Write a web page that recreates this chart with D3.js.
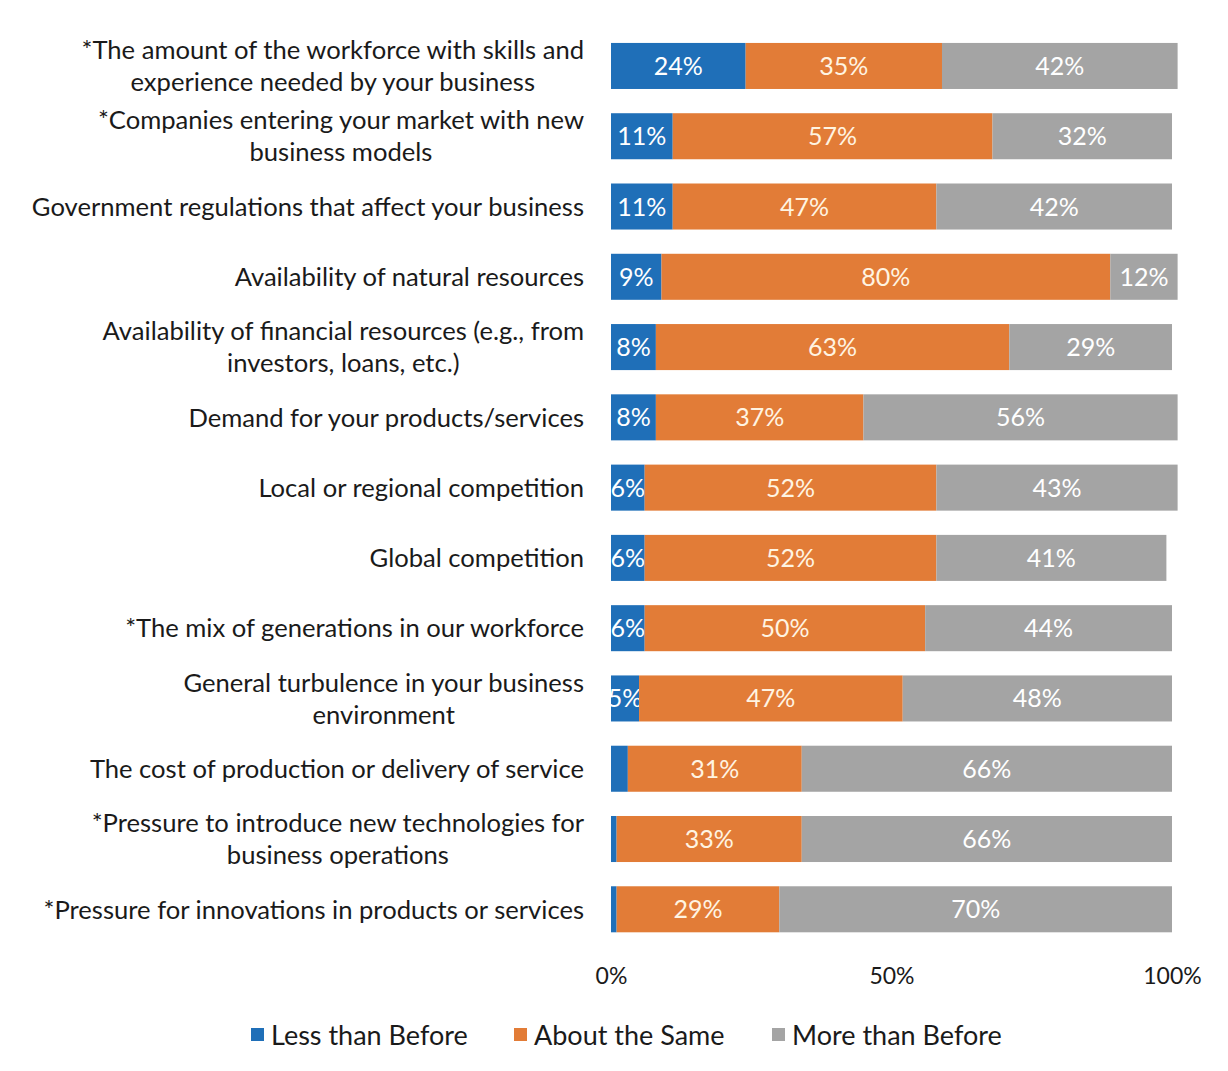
<!DOCTYPE html>
<html>
<head>
<meta charset="utf-8">
<script src="https://cdn.jsdelivr.net/npm/d3@7/dist/d3.min.js"></script>
<style>
  html, body { margin: 0; padding: 0; background: #fff; }
  svg { display: block; }
  text { font-family: "Lato", "Open Sans", sans-serif; }
</style>
</head>
<body>
<svg id="chart" width="1228" height="1071"></svg>
<script>
// Factors, each split into three response shares (percent)
const categories = [
  ["*The amount of the workforce with skills and", "experience needed by your business"],
  ["*Companies entering your market with new", "business models"],
  ["Government regulations that affect your business"],
  ["Availability of natural resources"],
  ["Availability of financial resources (e.g., from", "investors, loans, etc.)"],
  ["Demand for your products/services"],
  ["Local or regional competition"],
  ["Global competition"],
  ["*The mix of generations in our workforce"],
  ["General turbulence in your business", "environment"],
  ["The cost of production or delivery of service"],
  ["*Pressure to introduce new technologies for", "business operations"],
  ["*Pressure for innovations in products or services"]
];
const lessThanBefore = [24, 11, 11, 9, 8, 8, 6, 6, 6, 5, 3, 1, 1];
const aboutTheSame   = [35, 57, 47, 80, 63, 37, 52, 52, 50, 47, 31, 33, 29];
const moreThanBefore = [42, 32, 42, 12, 29, 56, 43, 41, 44, 48, 66, 66, 70];
// Shares too thin to carry a label
const unlabeled = [[10, 0], [11, 0], [12, 0]];

const seriesNames = ["Less than Before", "About the Same", "More than Before"];
const seriesColors = ["#1f6fb8", "#e27c37", "#a4a4a4"];
const tickValues = [0, 50, 100];

const svg = d3.select("#chart");
const plotLeft = 611, plotRight = 1172;
const plotTop = 31, rowStep = 70.25;

const x = d3.scaleLinear().domain([0, 100]).range([plotLeft, plotRight]);
const y = d3.scaleBand()
  .domain(d3.range(categories.length))
  .range([plotTop, plotTop + rowStep * categories.length])
  .paddingInner(0.345).paddingOuter(0.17);

const rows = categories.map((c, i) => ({
  i, values: [lessThanBefore[i], aboutTheSame[i], moreThanBefore[i]]
}));

const stack = d3.stack().keys([0, 1, 2]).value((d, k) => d.values[k]);
const layers = stack(rows);

svg.append("defs").append("clipPath").attr("id", "plotClip")
  .append("rect").attr("x", plotLeft - 2).attr("y", 0).attr("width", 700).attr("height", 1071);

const plot = svg.append("g").attr("clip-path", "url(#plotClip)");

layers.forEach((layer, k) => {
  const g = plot.append("g");
  g.selectAll("rect").data(layer).enter().append("rect")
    .attr("x", d => x(d[0]))
    .attr("y", d => y(d.data.i))
    .attr("width", d => x(d[1]) - x(d[0]))
    .attr("height", y.bandwidth())
    .attr("fill", seriesColors[k]);
  g.selectAll("text").data(layer.filter(d => !unlabeled.some(u => u[0] === d.data.i && u[1] === k)))
    .enter().append("text")
    .attr("x", d => (x(d[0]) + x(d[1])) / 2)
    .attr("y", d => y(d.data.i) + y.bandwidth() / 2)
    .attr("dy", "0.36em")
    .attr("text-anchor", "middle")
    .attr("font-size", 25)
    .attr("fill", k === 1 ? "#fff4e2" : "#ffffff")
    .text(d => d.data.values[k] + "%");
});

// Category labels: block right-aligned, lines centred within the block
const labelRight = 584, lineGap = 32;
const labels = svg.append("g");
categories.forEach((lines, i) => {
  const g = labels.append("g");
  const cy = y(i) + y.bandwidth() / 2;
  const texts = lines.map((t, j) => g.append("text")
    .attr("font-size", 25.6)
    .attr("fill", "#1a1a1a")
    .attr("text-anchor", "middle")
    .attr("y", cy + (j - (lines.length - 1) / 2) * lineGap)
    .attr("dy", "0.36em")
    .text(t));
  const maxW = d3.max(texts, t => t.node().getComputedTextLength());
  texts.forEach(t => t.attr("x", labelRight - maxW / 2));
});

// Percentage axis
const axis = d3.axisBottom(x).tickValues(tickValues).tickSize(0).tickFormat(d => d + "%");
const axisG = svg.append("g").attr("transform", "translate(0,965)").call(axis);
axisG.select(".domain").remove();
axisG.selectAll("text").attr("font-size", 23).attr("fill", "#1a1a1a")
  .attr("font-family", "Lato, 'Open Sans', sans-serif");

// Legend
const legendX = [251, 514, 772];
const legend = svg.append("g");
seriesNames.forEach((name, k) => {
  legend.append("rect").attr("x", legendX[k]).attr("y", 1028).attr("width", 13).attr("height", 13)
    .attr("fill", seriesColors[k]);
  legend.append("text").attr("x", legendX[k] + 20).attr("y", 1035).attr("dy", "0.36em")
    .attr("font-size", 27).attr("fill", "#1a1a1a").text(name);
});
</script>
</body>
</html>
